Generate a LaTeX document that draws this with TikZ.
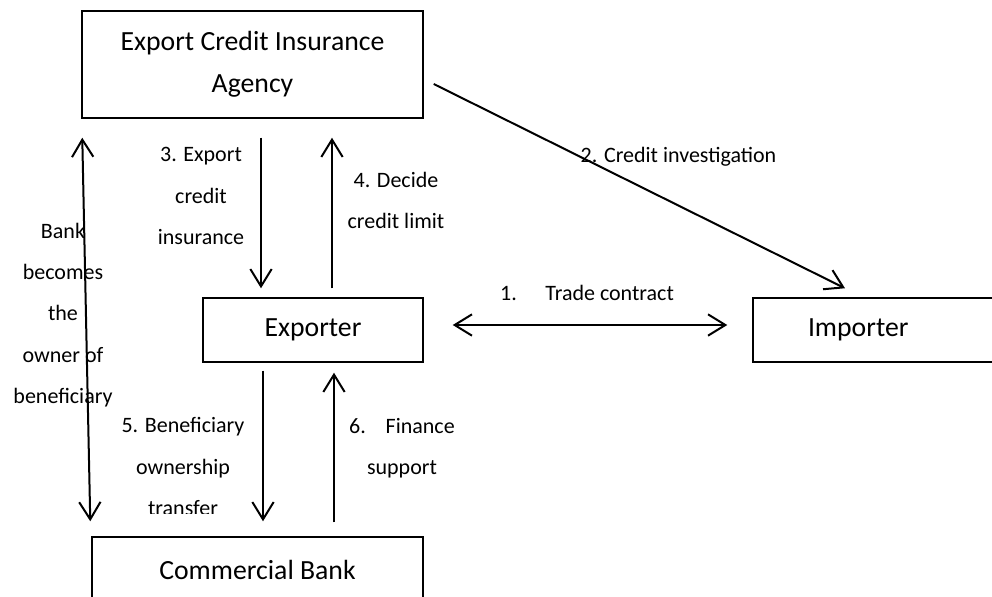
\documentclass[tikz,border=0pt]{standalone}
\usepackage{fontspec}
\setmainfont{Carlito}
\usetikzlibrary{arrows.meta,calc}
\begin{document}
\begin{tikzpicture}[x=0.75pt,y=-0.75pt,
  box/.style={draw,line width=1.1pt,inner sep=0pt,align=center,
    font=\fontsize{20.8}{31.5}\selectfont},
  lab/.style={align=center,inner sep=0pt,font=\fontsize{16.5}{31}\selectfont},
  conn/.style={line width=1.5pt,-{Straight Barb[length=13pt,width=16pt,line width=1.5pt]}},
  dconn/.style={line width=1.5pt,{Straight Barb[length=13pt,width=16pt,line width=1.5pt]}-{Straight Barb[length=13pt,width=16pt,line width=1.5pt]}}]
\useasboundingbox (0,0) rectangle (992,596);
\clip (0,0) rectangle (992,596);
\node[box,minimum width=341*0.75pt,minimum height=107*0.75pt] (ecia) at (252.5,64.5) {Export Credit Insurance\\Agency};
\node[box,minimum width=220*0.75pt,minimum height=64*0.75pt] (exporter) at (313,330) {Exporter};
\node[box,minimum width=331*0.75pt,minimum height=66*0.75pt] (bank) at (257.5,570) {Commercial Bank};
\node[box,minimum height=64*0.75pt,text width=147*0.75pt,align=left,inner xsep=55*0.75pt] (importer) at (881.5,330) {Importer};
% connectors
\draw[conn] (261,0 |- ecia.south) ++(0,19) -- ($(261,0 |- exporter.north)+(0,-9)$);
\draw[conn] (332,0 |- exporter.north) ++(0,-9) -- ($(332,0 |- ecia.south)+(0,19)$);
\draw[conn] (263,0 |- exporter.south) ++(0,8) -- ($(263,0 |- bank.north)+(0,-15)$);
\draw[conn] (334,0 |- bank.north) ++(0,-14) -- ($(334,0 |- exporter.south)+(0,10)$);
\draw[dconn] ($(ecia.south west)+(1,19)$) -- ($(bank.north west)+(-1,-15)$);
\draw[dconn] ($(exporter.east)+(29,-5)$) -- ($(importer.west)+(-25,-5)$);
\draw[conn] ($(ecia.east)+(10,19.5)$) -- ($(importer.north)+(-36.5,-9)$);
% labels
\node[lab] (l3) at (201,196) {3. Export\\credit\\insurance};
\node[lab] (l4) at (396,200.5) {4. Decide\\credit limit};
\node[lab] (lb) at (63,315) {Bank\\becomes\\the\\owner of\\beneficiary};
\begin{scope}
\clip (90,380) rectangle (258,513.5);
\node[lab] (l5) at (183,466.5) {5. Beneficiary\\ownership\\transfer};
\end{scope}
\node[lab] (l6) at (402,448.5) {6.\hspace{0.9em}Finance\\support};
\node[lab] (l1) at (587,293) {1.\hspace{1.3em}Trade contract};
\node[lab] (l2) at (678.5,157) {2. Credit investigation};
\end{tikzpicture}
\end{document}
